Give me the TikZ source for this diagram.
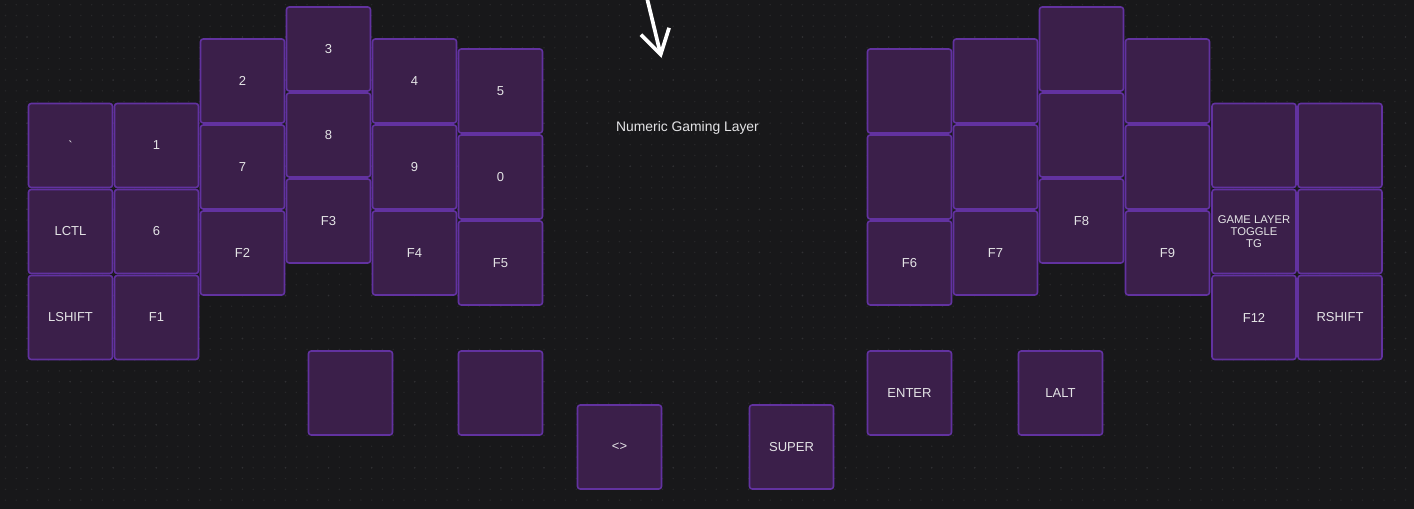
\documentclass[tikz,border=0pt]{standalone}
\usepackage{fontspec}
\setmainfont{Liberation Sans}
\usetikzlibrary{arrows.meta}
\definecolor{canvasbg}{HTML}{18181A}
\definecolor{griddot}{HTML}{28282A}
\definecolor{griddotb}{HTML}{303033}
\definecolor{keyfill}{HTML}{3B1F4A}
\definecolor{keyline}{HTML}{6232A0}
\definecolor{keytext}{HTML}{E4E4E6}

\begin{document}
\begin{tikzpicture}[x=0.02cm,y=-0.02cm,
    keycap/.style={draw=keyline,fill=keyfill,line width=0.9pt,rounded corners=1.5pt,
      minimum size=1.68cm,inner sep=0pt,text=keytext,align=center,
      font=\fontsize{7.4}{8}\selectfont},
    smallcap/.style={font=\fontsize{6.4}{6.8}\selectfont},
    scribble/.style={draw=white,line width=2.1pt,line cap=round,line join=round,
      -{Straight Barb[length=0.48cm,width=0.58cm]}}]
    \useasboundingbox (0,0) rectangle (1414,509);
    \fill[canvasbg] (0,0) rectangle (1414,509);
    % dotted canvas
    \foreach \i in {0,...,131}
      \foreach \j in {0,...,47}
        \fill[griddot] (5.5+\i*10.77,4.7+\j*10.77) circle (0.45pt);
    \foreach \i in {2,6,...,130}
      \foreach \j in {3,7,...,47}
        \fill[griddotb] (5.5+\i*10.77,4.7+\j*10.77) circle (0.5pt);

    % left half
    \node[keycap] (grave) at (70.5,145.5) {\textasciigrave};
    \node[keycap] (lctl) at (70.5,231.5) {LCTL};
    \node[keycap] (lshift) at (70.5,317.5) {LSHIFT};
    \node[keycap] (one) at (156.5,145.5) {1};
    \node[keycap] (six) at (156.5,231.5) {6};
    \node[keycap] (fone) at (156.5,317.5) {F1};
    \node[keycap] (two) at (242.5,81) {2};
    \node[keycap] (seven) at (242.5,167) {7};
    \node[keycap] (ftwo) at (242.5,253) {F2};
    \node[keycap] (three) at (328.5,49) {3};
    \node[keycap] (eight) at (328.5,135) {8};
    \node[keycap] (fthree) at (328.5,221) {F3};
    \node[keycap] (four) at (414.5,81) {4};
    \node[keycap] (nine) at (414.5,167) {9};
    \node[keycap] (ffour) at (414.5,253) {F4};
    \node[keycap] (five) at (500.5,91) {5};
    \node[keycap] (zero) at (500.5,177) {0};
    \node[keycap] (ffive) at (500.5,263) {F5};

    % right half
    \node[keycap] (rtop1) at (909.5,91) {};
    \node[keycap] (rmid1) at (909.5,177) {};
    \node[keycap] (fsix) at (909.5,263) {F6};
    \node[keycap] (rtop2) at (995.5,81) {};
    \node[keycap] (rmid2) at (995.5,167) {};
    \node[keycap] (fseven) at (995.5,253) {F7};
    \node[keycap] (rtop3) at (1081.5,49) {};
    \node[keycap] (rmid3) at (1081.5,135) {};
    \node[keycap] (feight) at (1081.5,221) {F8};
    \node[keycap] (rtop4) at (1167.5,81) {};
    \node[keycap] (rmid4) at (1167.5,167) {};
    \node[keycap] (fnine) at (1167.5,253) {F9};
    \node[keycap] (rtop5) at (1254,145.5) {};
    \node[keycap,smallcap] (gametg) at (1254,231.5) {GAME LAYER\\TOGGLE\\TG};
    \node[keycap] (ftwelve) at (1254,317.5) {F12};
    \node[keycap] (rtop6) at (1340,145.5) {};
    \node[keycap] (rmid6) at (1340,231.5) {};
    \node[keycap] (rshift) at (1340,317.5) {RSHIFT};

    % thumbs
    \node[keycap] (lthumb1) at (350.5,393) {};
    \node[keycap] (lthumb2) at (500.5,393) {};
    \node[keycap] (angles) at (619.5,447) {<>};
    \node[keycap] (super) at (791.5,447) {SUPER};
    \node[keycap] (enter) at (909.5,393) {ENTER};
    \node[keycap] (lalt) at (1060.5,393) {LALT};

    \node[text=keytext,font=\fontsize{7.9}{9}\selectfont] (title) at (687.5,128) {Numeric Gaming Layer};
    \coordinate (arrowfrom) at (646.5,-4);
    \coordinate (arrowto) at (661.5,58);
    \draw[scribble] (arrowfrom) -- (arrowto);
\end{tikzpicture}
\end{document}
